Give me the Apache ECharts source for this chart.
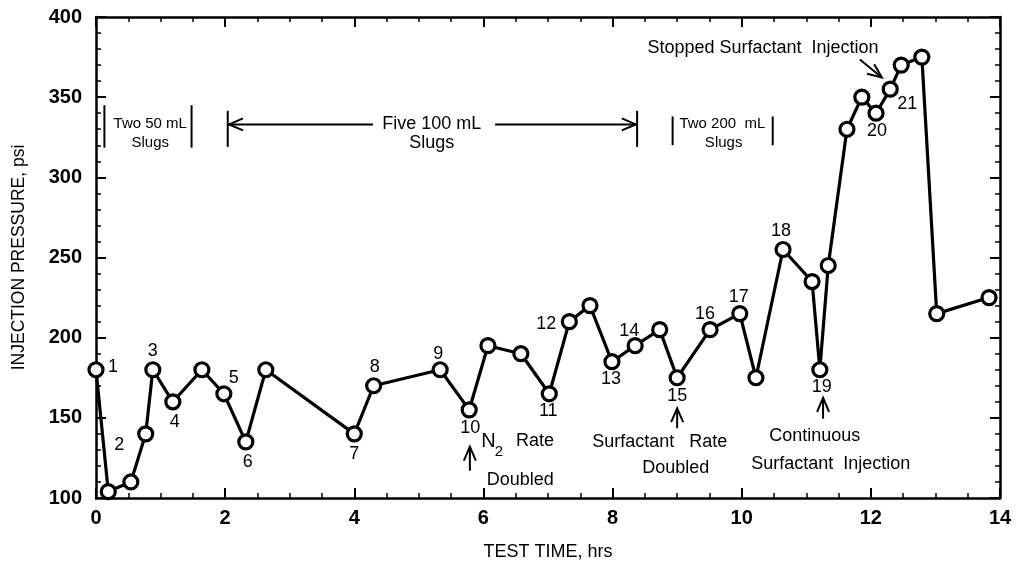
<!DOCTYPE html>
<html>
<head>
<meta charset="utf-8">
<script src="https://cdn.jsdelivr.net/npm/echarts@6/dist/echarts.min.js"></script>
<style>
  html, body { margin: 0; padding: 0; background: #fff; }
  #chart { width: 1017px; height: 570px; }
</style>
</head>
<body>
<div id="chart"></div>
<script>
// test time (hrs) and injection pressure (psi)
const times = [0, 0.19, 0.54, 0.77, 0.88, 1.19, 1.64, 1.98, 2.32, 2.63,
  4.0, 4.3, 5.33, 5.78, 6.07, 6.58, 7.02, 7.33, 7.65, 7.99,
  8.35, 8.73, 9.0, 9.51, 9.97, 10.22, 10.64, 11.09, 11.21, 11.34,
  11.63, 11.86, 12.08, 12.30, 12.47, 12.79, 13.02, 13.83];
const pressures = [180, 104, 110, 140, 180, 160, 180, 165, 135, 180,
  140, 170, 180, 155, 195, 190, 165, 210, 220, 185,
  195, 205, 175, 205, 215, 175, 255, 235, 180, 245,
  330, 350, 340, 355, 370, 375, 215, 225];
const pointTags = ['1', '2', '', '', '3', '4', '', '5', '6', '',
  '7', '8', '9', '10', '', '', '11', '12', '', '13',
  '14', '', '15', '16', '17', '', '18', '', '19', '',
  '', '', '20', '21', '', '', '', ''];
const xTicks = [0, 2, 4, 6, 8, 10, 12, 14];
const yTicks = [100, 150, 200, 250, 300, 350, 400];

// where each tag sits relative to its circle (px)
const tagOffset = {
  '1': [17, -3], '2': [11, -47], '3': [0, -19], '4': [2, 20], '5': [10, -16],
  '6': [2, 20], '7': [0, 20], '8': [1, -19], '9': [-2, -16], '10': [1, 18],
  '11': [-1, 17], '12': [-23, 2], '13': [-1, 17], '14': [-6, -15], '15': [0, 18],
  '16': [-5, -16], '17': [-1, -17], '18': [-2, -18], '19': [2, 17], '20': [1, 18],
  '21': [17, 15]
};

const NARROW = '"Liberation Sans Narrow", "Liberation Sans", Arial, sans-serif';
const SANS = '"Liberation Sans", Arial, sans-serif';

const chart = echarts.init(document.getElementById('chart'), null, { renderer: 'canvas' });

const seriesData = times.map((t, i) => {
  const tag = pointTags[i];
  const item = { value: [t, pressures[i]] };
  if (tag) {
    item.label = {
      show: true,
      formatter: tag,
      position: 'inside',
      offset: tagOffset[tag],
      color: '#000',
      fontFamily: NARROW,
      fontSize: 18
    };
  }
  return item;
});

const tickAxis = (extra) => Object.assign({
  axisLine: { show: true, onZero: false, lineStyle: { color: '#000', width: 2.5 } },
  axisTick: { show: true, inside: true, length: 10, lineStyle: { color: '#000', width: 2 } },
  minorTick: { show: true, length: 5, lineStyle: { color: '#000', width: 1.5 } },
  splitLine: { show: false }
}, extra);

chart.setOption({
  backgroundColor: '#fff',
  animation: false,
  grid: { left: 96, right: 17, top: 17, bottom: 72 },
  xAxis: [
    tickAxis({
      type: 'value', min: 0, max: 14, interval: 2,
      minorTick: { show: true, splitNumber: 4, length: 5, lineStyle: { color: '#000', width: 1.5 } },
      axisLabel: {
        color: '#000', fontFamily: SANS, fontWeight: 'bold', fontSize: 20, margin: 10,
        customValues: xTicks
      },
      name: 'TEST TIME, hrs', nameLocation: 'middle', nameGap: 45,
      nameTextStyle: { color: '#000', fontFamily: NARROW, fontSize: 18 }
    }),
    tickAxis({
      type: 'value', min: 0, max: 14, interval: 2, position: 'top',
      minorTick: { show: true, splitNumber: 4, length: 5, lineStyle: { color: '#000', width: 1.5 } },
      axisLabel: { show: false }
    })
  ],
  yAxis: [
    tickAxis({
      type: 'value', min: 100, max: 400, interval: 50,
      minorTick: { show: true, splitNumber: 5, length: 5, lineStyle: { color: '#000', width: 1.5 } },
      axisLabel: {
        color: '#000', fontFamily: SANS, fontWeight: 'bold', fontSize: 20, margin: 14,
        customValues: yTicks
      },
      name: 'INJECTION PRESSURE, psi', nameLocation: 'middle', nameGap: 68,
      nameTextStyle: { color: '#000', fontFamily: NARROW, fontSize: 17.5 }
    }),
    tickAxis({
      type: 'value', min: 100, max: 400, interval: 50, position: 'right',
      minorTick: { show: true, splitNumber: 5, length: 5, lineStyle: { color: '#000', width: 1.5 } },
      axisLabel: { show: false }
    })
  ],
  series: [{
    type: 'line',
    xAxisIndex: 0,
    yAxisIndex: 0,
    data: seriesData,
    clip: false,
    symbol: 'circle',
    symbolSize: 14,
    lineStyle: { color: '#000', width: 3.2 },
    itemStyle: { color: '#fff', borderColor: '#000', borderWidth: 3.2 },
    z: 3
  }]
});

// annotations, placed in data coordinates
const notes = [
  { text: 'Two 50 mL', x: 0.84, y: 333.5, size: 15 },
  { text: 'Slugs', x: 0.84, y: 321.5, size: 15 },
  { text: 'Five 100 mL', x: 5.2, y: 333.5, size: 18 },
  { text: 'Slugs', x: 5.2, y: 321.5, size: 18 },
  { text: 'Two 200  mL', x: 9.7, y: 333.5, size: 15 },
  { text: 'Slugs', x: 9.72, y: 321.5, size: 15 },
  { text: 'Stopped Surfactant  Injection', x: 10.33, y: 380.5, size: 18 },
  { text: 'N', x: 6.08, y: 135, size: 20 },
  { text: '2', x: 6.24, y: 129, size: 15 },
  { text: 'Rate', x: 6.8, y: 135.5, size: 18 },
  { text: 'Doubled', x: 6.57, y: 111, size: 18 },
  { text: 'Surfactant   Rate', x: 8.73, y: 135, size: 18 },
  { text: 'Doubled', x: 8.98, y: 119, size: 18 },
  { text: 'Continuous', x: 11.13, y: 138.5, size: 18 },
  { text: 'Surfactant  Injection', x: 11.38, y: 121, size: 18 }
];
const bars = [
  [0.13, 345, 0.13, 318.5], [1.48, 345, 1.48, 318.5],
  [2.04, 341.5, 2.04, 319], [8.38, 341.5, 8.38, 319],
  [8.93, 338, 8.93, 320], [10.48, 338, 10.48, 320],
  [2.06, 333, 4.29, 333], [6.18, 333, 8.36, 333],
  [5.79, 117, 5.79, 132], [9.0, 143.5, 9.0, 156], [11.26, 149.5, 11.26, 162.5],
  [11.83, 373.5, 12.17, 362.3]
];
// arrow heads: tip position and direction (dx, dy in px pointing back from tip)
const heads = [
  [2.06, 333, 1, 0], [8.36, 333, -1, 0],
  [5.79, 132, 0, 1], [9.0, 156, 0, 1], [11.26, 162.5, 0, 1],
  [12.17, 362.3, -0.8, -0.6]
];

const px = (x, y) => chart.convertToPixel({ xAxisIndex: 0, yAxisIndex: 0 }, [x, y]);
const graphics = [];
notes.forEach(n => {
  const p = px(n.x, n.y);
  graphics.push({
    type: 'text', x: p[0], y: p[1], z: 10,
    style: {
      text: n.text, fill: '#000', fontFamily: NARROW, fontSize: n.size,
      textAlign: 'center', textVerticalAlign: 'middle'
    }
  });
});
bars.forEach(b => {
  const a = px(b[0], b[1]);
  const c = px(b[2], b[3]);
  graphics.push({
    type: 'line', z: 10,
    shape: { x1: a[0], y1: a[1], x2: c[0], y2: c[1] },
    style: { stroke: '#000', lineWidth: 2 }
  });
});
heads.forEach(h => {
  const t = px(h[0], h[1]);
  const dx = h[2], dy = h[3];
  const len = 14, half = 6;
  const bx = t[0] + dx * len, by = t[1] + dy * len;
  graphics.push({
    type: 'polyline', z: 10,
    shape: { points: [[bx - dy * half, by + dx * half], t, [bx + dy * half, by - dx * half]] },
    style: { stroke: '#000', lineWidth: 2, fill: null }
  });
});
chart.setOption({ graphic: graphics });
</script>
</body>
</html>
